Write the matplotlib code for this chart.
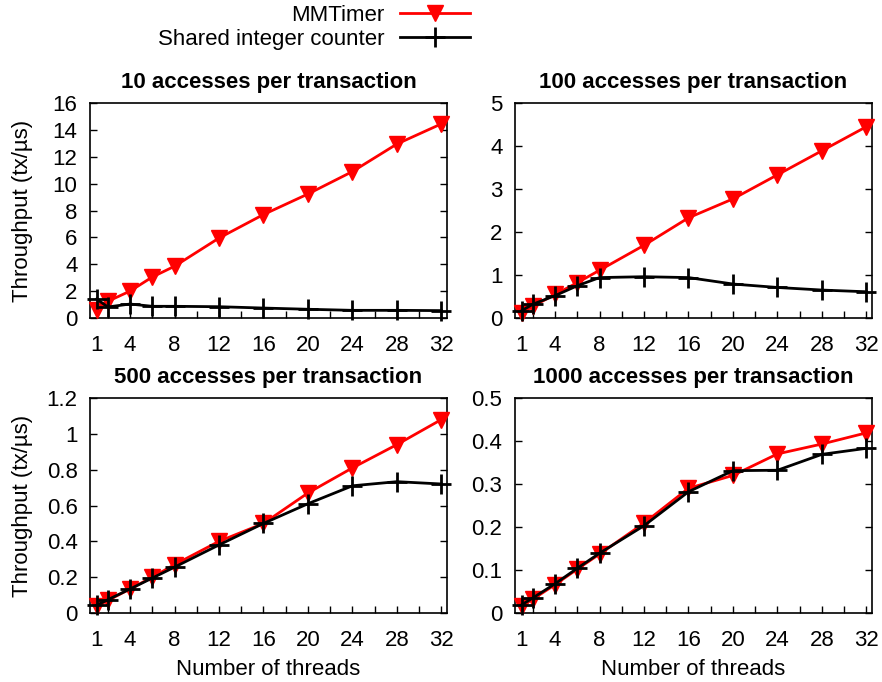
import matplotlib
matplotlib.use("Agg")
import matplotlib.pyplot as plt
from matplotlib.lines import Line2D

plt.rcParams['font.family'] = ['Liberation Sans', 'DejaVu Sans']

threads = [1, 2, 4, 6, 8, 12, 16, 20, 24, 28, 32]
xtick_labels = [1, 4, 8, 12, 16, 20, 24, 28, 32]

titles = ["10 accesses per transaction", "100 accesses per transaction",
          "500 accesses per transaction", "1000 accesses per transaction"]

mmtimer_10 = [0.62, 1.24, 2.0, 3.05, 3.85, 5.95, 7.7, 9.23, 10.9, 12.95, 14.45]
shared_10 = [1.41, 0.82, 1.04, 0.87, 0.87, 0.84, 0.74, 0.65, 0.57, 0.57, 0.55]

mmtimer_100 = [0.12, 0.27, 0.55, 0.82, 1.11, 1.69, 2.33, 2.77, 3.33, 3.89, 4.45]
shared_100 = [0.17, 0.32, 0.52, 0.75, 0.94, 0.96, 0.94, 0.79, 0.71, 0.65, 0.61]

mmtimer_500 = [0.037, 0.07, 0.134, 0.2, 0.27, 0.4, 0.5, 0.67, 0.81, 0.94, 1.08]
shared_500 = [0.043, 0.074, 0.134, 0.195, 0.256, 0.38, 0.5, 0.61, 0.71, 0.733, 0.72]

mmtimer_1000 = [0.017, 0.032, 0.066, 0.102, 0.137, 0.209, 0.29, 0.32, 0.37, 0.393, 0.419]
shared_1000 = [0.019, 0.035, 0.068, 0.104, 0.139, 0.203, 0.282, 0.331, 0.332, 0.369, 0.383]

mmtimer = [mmtimer_10, mmtimer_100, mmtimer_500, mmtimer_1000]
shared = [shared_10, shared_100, shared_500, shared_1000]
ylims = [16, 5, 1.2, 0.5]
yticks = [[0, 2, 4, 6, 8, 10, 12, 14, 16],
          [0, 1, 2, 3, 4, 5],
          [0, 0.2, 0.4, 0.6, 0.8, 1, 1.2],
          [0, 0.1, 0.2, 0.3, 0.4, 0.5]]

W, H = 882, 682
fig = plt.figure(figsize=(W / 100, H / 100), dpi=100)

# panel boxes in pixels: left, top, right, bottom
boxes = [(90, 103, 447, 318), (515, 103, 872, 318),
         (90, 398, 447, 613), (515, 398, 872, 613)]

FS = 16
red_style = dict(color='#ff0000', lw=2, marker='v', ms=11, mec='#ff0000', mfc='#ff0000')
black_style = dict(color='black', lw=2, marker='+', ms=14, mew=2)

for i, (l, t, r, b) in enumerate(boxes):
    ax = fig.add_axes([l / W, 1 - b / H, (r - l) / W, (b - t) / H])
    ax.plot(threads, mmtimer[i], clip_on=False, zorder=3, **red_style)
    ax.plot(threads, shared[i], clip_on=False, zorder=4, **black_style)
    ax.set_xlim(0.4, 32.5)
    ax.set_ylim(0, ylims[i])
    ax.set_xticks(xtick_labels)
    ax.set_xticks([1] + list(range(2, 33, 2)), minor=True)
    ax.set_yticks(yticks[i])
    ax.set_yticklabels([f"{v:g}" for v in yticks[i]])
    ax.tick_params(axis='x', which='both', direction='in', length=5, width=1,
                   top=False, labelsize=FS, pad=12)
    ax.tick_params(axis='y', direction='in', length=5, width=1, right=True,
                   labelsize=FS, pad=9)
    for s in ax.spines.values():
        s.set_linewidth(1.2)
    ax.set_title(titles[i], fontsize=FS, fontweight='bold', pad=11)
    if i % 2 == 0:
        ax.set_ylabel("Throughput (tx/µs)", fontsize=FS)
        ax.yaxis.set_label_coords(-0.16, 0.5)
    if i >= 2:
        ax.set_xlabel("Number of threads", fontsize=FS, labelpad=6)

# legend drawn at the top, text to the left of the samples
handles = [Line2D([], [], **red_style), Line2D([], [], **black_style)]
fig.legend(handles, ["MMTimer", "Shared integer counter"], loc='upper right',
           bbox_to_anchor=(470 / W, 1 - 5 / H), frameon=False, fontsize=FS,
           markerfirst=False, handlelength=3.15, handletextpad=0.7,
           labelspacing=0.12, borderaxespad=0, borderpad=0, alignment='right')
for txt in fig.legends[0].get_texts():
    txt.set_ha('right')

fig.savefig("out.png", dpi=100)
